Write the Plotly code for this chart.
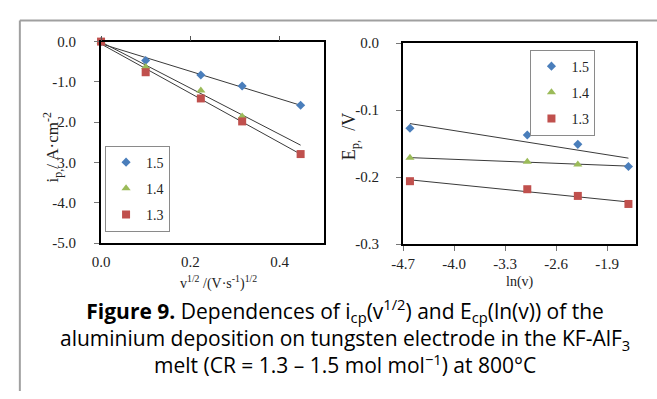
import numpy as np
import plotly.graph_objects as go

# ---------------- data ----------------
series_names = ["1.5", "1.4", "1.3"]

sqrt_v = [0.0, 0.1, 0.2236, 0.3162, 0.4472]          # v^1/2 /(V s^-1)^1/2
ip_15 = [0.0, -0.47, -0.83, -1.10, -1.58]
ip_14 = [0.0, -0.63, -1.21, -1.86, None]
ip_13 = [0.0, -0.76, -1.41, -1.98, -2.79]

ln_v = [-4.605, -2.996, -2.303, -1.609]               # ln(v)
ep_15 = [-0.127, -0.137, -0.151, -0.184]
ep_14 = [-0.171, -0.177, -0.181, None]
ep_13 = [-0.206, -0.218, -0.228, -0.240]

left_yticks = [0, -1, -2, -3, -4, -5]
left_yticktext = ["0.0", "-1.0", "2.0", "3.0", "-4.0", "-5.0"]
left_xticks = [0.0, 0.2, 0.4]
left_xticktext = ["0.0", "0.2", "0.4"]
right_yticks = [0.0, -0.1, -0.2, -0.3]
right_yticktext = ["0.0", "-0.1", "-0.2", "-0.3"]
right_xticks = [-4.7, -4.0, -3.3, -2.6, -1.9]
right_xticktext = ["-4.7", "-4.0", "-3.3", "-2.6", "-1.9"]

caption_lines = [
    "<b>Figure 9.</b> Dependences of i<sub>cp</sub>(v<sup>1/2</sup>) and E<sub>cp</sub>(ln(v)) of the",
    "aluminium deposition on tungsten electrode in the KF-AlF<sub>3</sub>",
    "melt (CR = 1.3 – 1.5 mol mol<sup>−1</sup>) at 800°C",
]

# ---------------- styles ----------------
W, H = 657, 399
colors = {"1.5": "#4A7EBB", "1.4": "#9BBB59", "1.3": "#C0504D"}
symbols = {"1.5": "diamond", "1.4": "triangle-up", "1.3": "square"}
sizes = {"1.5": 7, "1.4": 8, "1.3": 8}
SERIF = "Liberation Serif"
SANS = "Open Sans"
TXT = "#222222"


def px(x):
    return x / W


def py(y):
    return 1 - y / H


def fit_line(xs, ys, xline):
    xa = np.array([a for a, b in zip(xs, ys) if b is not None], dtype=float)
    ya = np.array([b for b in ys if b is not None], dtype=float)
    k, b = np.polyfit(xa, ya, 1)
    xl = np.array(xline, dtype=float)
    return xl, k * xl + b


fig = go.Figure()

left = {"1.5": ip_15, "1.4": ip_14, "1.3": ip_13}
right = {"1.5": ep_15, "1.4": ep_14, "1.3": ep_13}

# trend lines (drawn first, under markers)
for name in series_names:
    xl, yl = fit_line(sqrt_v, left[name], [min(sqrt_v), max(sqrt_v)])
    fig.add_trace(go.Scatter(x=xl, y=yl, mode="lines", xaxis="x", yaxis="y",
                             line=dict(color="#3a3a3a", width=1),
                             showlegend=False, hoverinfo="skip"))
    xl, yl = fit_line(ln_v, right[name], [min(ln_v), max(ln_v)])
    fig.add_trace(go.Scatter(x=xl, y=yl, mode="lines", xaxis="x2", yaxis="y2",
                             line=dict(color="#3a3a3a", width=1),
                             showlegend=False, hoverinfo="skip"))

for name in series_names:
    fig.add_trace(go.Scatter(
        x=sqrt_v, y=left[name], mode="markers", name=name, xaxis="x", yaxis="y",
        marker=dict(color=colors[name], symbol=symbols[name], size=sizes[name]),
        cliponaxis=False, legend="legend", legendgroup="L" + name))
for name in series_names:
    fig.add_trace(go.Scatter(
        x=ln_v, y=right[name], mode="markers", name=name, xaxis="x2", yaxis="y2",
        marker=dict(color=colors[name], symbol=symbols[name], size=sizes[name]),
        cliponaxis=False, legend="legend2", legendgroup="R" + name))

# invisible trace so that the top tick axis (xaxis3) is rendered
fig.add_trace(go.Scatter(x=[None], y=[None], xaxis="x3", yaxis="y",
                         showlegend=False, hoverinfo="skip"))

axis_common = dict(showgrid=False, zeroline=False, showline=True, linecolor="black",
                   linewidth=2, mirror=True,
                   tickfont=dict(family=SERIF, size=15, color=TXT))

legend_common = dict(bgcolor="white", bordercolor="#8a8a8a", borderwidth=1,
                     font=dict(family=SERIF, size=14, color=TXT), tracegroupgap=5,
                     itemwidth=30)

fig.update_layout(
    width=W, height=H, margin=dict(l=0, r=0, t=0, b=0),
    paper_bgcolor="white", plot_bgcolor="white",
    xaxis=dict(domain=[px(90.7), px(318)], range=[0, 0.5], anchor="y",
               tickvals=left_xticks, ticktext=left_xticktext, ticks="",
               ticklabelstandoff=4, **axis_common),
    xaxis3=dict(overlaying="x", side="top", anchor="y", range=[0, 0.5],
                tickvals=left_xticks, ticks="outside", ticklen=5, tickcolor="#555",
                showticklabels=False, showgrid=False, zeroline=False, showline=False),
    yaxis=dict(domain=[py(245), py(35)], range=[-5, 0], anchor="x",
               tickvals=left_yticks, ticktext=left_yticktext, ticks="outside",
               ticklen=5, tickcolor="#777", ticklabelstandoff=15, **axis_common),
    xaxis2=dict(domain=[px(398.3), px(636)], range=[-4.7, -1.5], anchor="y2",
                tickvals=right_xticks, ticktext=right_xticktext, ticks="outside",
                ticklen=5, tickcolor="#777", ticklabelstandoff=0, **axis_common),
    yaxis2=dict(domain=[py(246), py(36.7)], range=[-0.3, 0], anchor="x2",
                tickvals=right_yticks, ticktext=right_yticktext, ticks="outside",
                ticklen=5, tickcolor="#777", ticklabelstandoff=14, **axis_common),
    legend=dict(x=px(161), xanchor="right", y=py(143.3), yanchor="top", **legend_common),
    legend2=dict(x=px(594.3), xanchor="right", y=py(43.3), yanchor="top", **legend_common),
    showlegend=True,
)

annotations = [
    dict(text="i<sub>p,</sub>/ A·cm<sup>-2</sup>", x=px(41), y=py(145), textangle=-90,
         font=dict(family=SERIF, size=17, color=TXT)),
    dict(text="E<sub>p,</sub>  /V", x=px(345), y=py(134), textangle=-90,
         font=dict(family=SERIF, size=18, color=TXT)),
    dict(text="v<sup>1/2</sup> /(V·s<sup>-1</sup>)<sup>1/2</sup>", x=px(210), y=py(286),
         font=dict(family=SERIF, size=14, color=TXT)),
    dict(text="ln(v)", x=px(517), y=py(285),
         font=dict(family=SERIF, size=14, color=TXT)),
    dict(text="<br>".join(caption_lines), x=px(339), y=py(342),
         font=dict(family=SANS, size=21, color="black"), align="center"),
]
for a in annotations:
    a.update(xref="paper", yref="paper", showarrow=False, xanchor="center", yanchor="middle")
fig.update_layout(annotations=annotations)

fig.update_layout(shapes=[
    dict(type="line", xref="paper", yref="paper", x0=px(8), x1=1.0, y0=py(13), y1=py(13),
         line=dict(color="#a0a0a0", width=2)),
    dict(type="line", xref="paper", yref="paper", x0=px(8), x1=px(8), y0=py(13), y1=0,
         line=dict(color="#a0a0a0", width=2)),
])

fig.write_html("out.html", config={"displayModeBar": False},
               post_script="document.body.style.margin='0';")
